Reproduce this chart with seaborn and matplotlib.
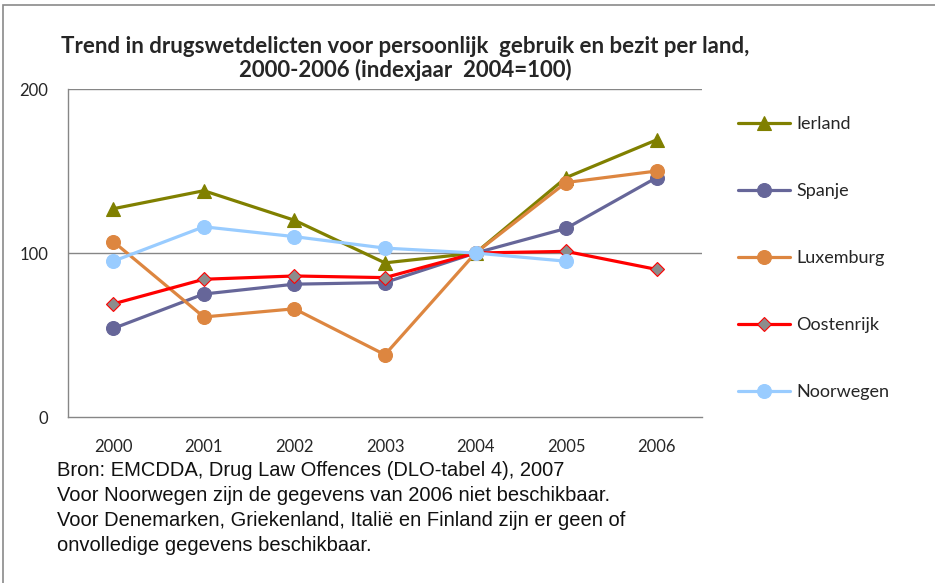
import matplotlib
matplotlib.use("Agg")
import matplotlib.pyplot as plt
import numpy as np
import pandas as pd
import seaborn as sns
from matplotlib.patches import Rectangle

years = ["2000", "2001", "2002", "2003", "2004", "2005", "2006"]
ierland = [127, 138, 120, 94, 100, 146, 169]
spanje = [54, 75, 81, 82, 100, 115, 146]
luxemburg = [107, 61, 66, 38, 100, 143, 150]
oostenrijk = [69, 84, 86, 85, 100, 101, 90]
noorwegen = [95, 116, 110, 103, 100, 95, np.nan]

title = ("Trend in drugswetdelicten voor persoonlijk  gebruik en bezit per land,\n"
         "2000-2006 (indexjaar  2004=100)")
notes = [
    "Bron: EMCDDA, Drug Law Offences (DLO-tabel 4), 2007",
    "Voor Noorwegen zijn de gegevens van 2006 niet beschikbaar.",
    "Voor Denemarken, Griekenland, Italië en Finland zijn er geen of",
    "onvolledige gegevens beschikbaar.",
]

series = [
    ("Ierland", ierland, "#808000", "^", "#808000", 10),
    ("Spanje", spanje, "#666699", "o", "#666699", 10),
    ("Luxemburg", luxemburg, "#DD8640", "o", "#DD8640", 10),
    ("Oostenrijk", oostenrijk, "#FF0000", "D", "#FF0000", 7),
    ("Noorwegen", noorwegen, "#99CCFF", "o", "#99CCFF", 10),
]

sns.set_style("white")
plt.rcParams["font.family"] = ["Lato", "DejaVu Sans"]

fig = plt.figure(figsize=(9.35, 5.83), dpi=100)
ax = fig.add_axes([0.0727, 0.2847, 0.678, 0.5626])

x = np.arange(len(years))
for name, vals, color, marker, face, ms in series:
    df = pd.DataFrame({"x": x, "y": vals}).dropna()
    mfc = "#8C8C8C" if name == "Oostenrijk" else face
    sns.lineplot(data=df, x="x", y="y", ax=ax, color=color, linewidth=2.3,
                 marker=marker, markersize=ms, markerfacecolor=mfc,
                 markeredgecolor=color, markeredgewidth=0.8, label=name)

ax.set_xlim(-0.5, 6.5)
ax.set_ylim(0, 200)
ax.set_yticks([0, 100, 200])
ax.set_xticks(x)
ax.set_xticklabels(years)
ax.set_xticks(np.arange(-0.5, 7, 1), minor=True)
ax.tick_params(axis="x", which="major", length=0, pad=16, labelsize=12)
ax.tick_params(axis="x", which="minor", length=6, color="#868686", direction="out")
ax.tick_params(axis="y", length=6, color="#868686", direction="out", labelsize=12, pad=8)
ax.grid(False)
for yv in (100, 200):
    ax.axhline(yv, color="#868686", linewidth=1, zorder=0)
ax.set_xlabel("")
ax.set_ylabel("")
for s in ("top", "right"):
    ax.spines[s].set_visible(False)
for s in ("left", "bottom"):
    ax.spines[s].set_color("#868686")
    ax.spines[s].set_linewidth(1)

leg = ax.legend(loc="upper left", bbox_to_anchor=(1.045, 0.94), frameon=False,
                fontsize=13, labelspacing=2.83, handlelength=2.9, handletextpad=0.35,
                borderaxespad=0)

fig.text(0.433, 0.9, title, ha="center", va="center", fontsize=16,
         fontweight="bold", linespacing=1.12)

for i, line in enumerate(notes):
    fig.text(0.061, 1 - (471 + i * 24.7) / 583, line, ha="left", va="center",
             fontsize=14.5, family="Liberation Sans", color="#111111")

fig.patches.append(Rectangle((3 / 935, -0.1), 1.2, 1 - 5 / 583 + 0.1,
                             transform=fig.transFigure, fill=False,
                             edgecolor="#8A8A8A", linewidth=1.2))

fig.savefig("out.png", dpi=100)
